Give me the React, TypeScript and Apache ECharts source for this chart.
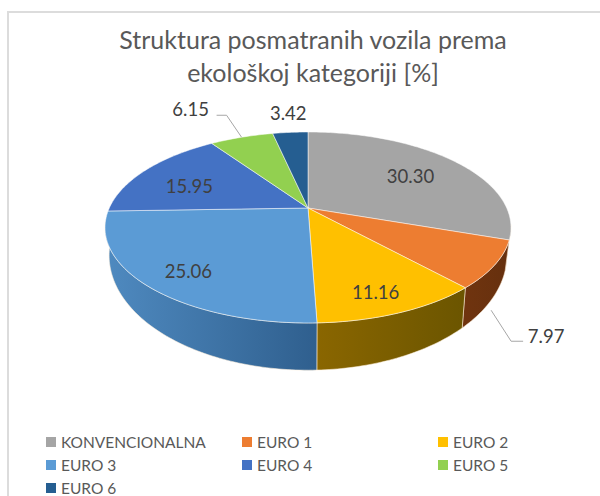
import React, { useEffect, useRef } from "react";
import * as echarts from "echarts";

const TITLE = "Struktura posmatranih vozila prema\nekološkoj kategoriji [%]";
const categories = ["KONVENCIONALNA", "EURO 1", "EURO 2", "EURO 3", "EURO 4", "EURO 5", "EURO 6"];
const shares = [30.3, 7.97, 11.16, 25.06, 15.95, 6.15, 3.42];
const colors = ["#a5a5a5", "#ed7d31", "#ffc000", "#5b9bd5", "#4472c4", "#92d050", "#255e91"];
const wallLeft = ["#7a7a7a", "#70340f", "#8a6600", "#4f8ac0", "#33558f", "#6a9a3a", "#1b4569"];
const wallRight = ["#6e6e6e", "#66300e", "#6b5500", "#2f5f8e", "#2f4f85", "#5f8a34", "#1b4569"];
const legendColumns = [
  ["KONVENCIONALNA", "EURO 3", "EURO 6"],
  ["EURO 1", "EURO 4"],
  ["EURO 2", "EURO 5"],
];

// projection of the tilted disc
const CX = 308, TOP_Y = 208, R = 198.7, A = 91.5, K = 0.204;
const BOT_Y = 232, BOT_A = 110, BOT_SCALE = 0.98;
const WALL_FROM = 100, WALL_TO = 262;
const total = shares.reduce((a, b) => a + b, 0);
const startAngle = (i: number) => (shares.slice(0, i).reduce((a, b) => a + b, 0) / total) * 360;
const endAngle = (i: number) => startAngle(i) + (shares[i] / total) * 360;

function topPoint(deg: number, r = 1): [number, number] {
  const t = (deg * Math.PI) / 180;
  const u = Math.sin(t) * r, v = -Math.cos(t) * r;
  const s = 1 / (1 - K * v);
  return [CX + R * u * s, TOP_Y + A * v * s];
}
function botPoint(deg: number): [number, number] {
  const t = (deg * Math.PI) / 180;
  const u = Math.sin(t), v = -Math.cos(t);
  const s = 1 / (1 - K * v);
  return [CX + BOT_SCALE * R * u * s, BOT_Y + BOT_A * v * s];
}
function arc(fn: (d: number) => [number, number], a: number, b: number) {
  const n = Math.max(2, Math.ceil(Math.abs(b - a)));
  const pts: [number, number][] = [];
  for (let j = 0; j <= n; j++) pts.push(fn(a + ((b - a) * j) / n));
  return pts;
}

const FONT = "Lato";
// label placement per slice: inside ones by radial factor plus a nudge, outside ones by offset from the rim
const insideRadius: Record<number, number> = { 0: 0.67, 2: 0.8, 3: 0.78, 4: 0.7 };
const insideNudge: Record<number, [number, number]> = { 0: [2, 1], 2: [-3, 4], 3: [0, 4], 4: [-2, 5] };

function wallItem(_: any, api: any) {
  const i = api.value(0);
  const a = Math.max(startAngle(i), WALL_FROM);
  const b = Math.min(endAngle(i), WALL_TO);
  if (b <= a) return { type: "group", children: [] };
  const pts = [...arc((d) => topPoint(d), a, b), ...arc(botPoint, b, a)];
  return {
    type: "polygon",
    shape: { points: pts },
    style: {
      fill: new echarts.graphic.LinearGradient(0, 0, 1, 0, [
        { offset: 0, color: wallLeft[i] },
        { offset: 1, color: wallRight[i] },
      ]),
      stroke: "rgba(255,240,220,0.55)",
      lineWidth: 1,
    },
  };
}

function topItem(i: number) {
  return () => ({
    type: "polygon",
    shape: {
      points: [[CX, TOP_Y], ...arc((d) => topPoint(d), startAngle(i), endAngle(i))],
    },
    style: { fill: colors[i], stroke: "rgba(255,255,255,0.5)", lineWidth: 1 },
  });
}

function labelItem(_: any, api: any) {
  const i = api.value(0);
  const mid = (startAngle(i) + endAngle(i)) / 2;
  const text = shares[i].toFixed(2);
  const font = { fill: "#404040", fontSize: 18.5, fontFamily: FONT, align: "center", verticalAlign: "middle" };
  if (insideRadius[i] !== undefined) {
    const [x, y] = topPoint(mid, insideRadius[i]);
    return { type: "text", x: x + insideNudge[i][0], y: y + insideNudge[i][1], style: { ...font, text } };
  }
  const leader = "#a6a6a6";
  if (i === 1) {
    const [bx, by] = botPoint(mid);
    const p0: [number, number] = [bx, by + 10];
    const p1: [number, number] = [p0[0] + 20, p0[1] + 31];
    const p2: [number, number] = [p1[0] + 12, p1[1]];
    return {
      type: "group",
      children: [
        { type: "polyline", shape: { points: [p0, p1, p2] }, style: { stroke: leader, lineWidth: 1, fill: "none" } },
        { type: "text", x: p2[0] + 23, y: p2[1] - 5, style: { ...font, text } },
      ],
    };
  }
  const [tx, ty] = topPoint(mid);
  if (i === 5) {
    const p1: [number, number] = [tx - 15, ty - 22];
    const p2: [number, number] = [p1[0] - 10, p1[1]];
    return {
      type: "group",
      children: [
        { type: "polyline", shape: { points: [[tx, ty], p1, p2] }, style: { stroke: leader, lineWidth: 1, fill: "none" } },
        { type: "text", x: p2[0] - 26, y: p2[1] - 6, style: { ...font, text } },
      ],
    };
  }
  return { type: "text", x: tx - 2, y: ty - 19, style: { ...font, text } };
}

const legendX = [46, 242, 438];

export default function App() {
  const ref = useRef<HTMLDivElement>(null);
  useEffect(() => {
    const chart = echarts.init(ref.current!, undefined, { renderer: "svg" });
    const idx = categories.map((_, i) => [i]);
    chart.setOption({
      animation: false,
      backgroundColor: "#ffffff",
      graphic: [
        {
          type: "rect",
          silent: true,
          z: -1,
          shape: { x: 8, y: 12, width: 620, height: 520 },
          style: { fill: "#ffffff", stroke: "#dcdcdc", lineWidth: 2 },
        },
      ],
      title: {
        text: TITLE,
        left: 308,
        top: 17,
        textAlign: "center",
        textStyle: { color: "#595959", fontSize: 25, fontWeight: "normal", fontFamily: FONT, lineHeight: 33 },
      },
      legend: legendColumns.map((data, c) => ({
        data,
        orient: "vertical",
        left: legendX[c],
        top: 434,
        height: 120,
        padding: 0,
        itemWidth: 10,
        itemHeight: 10,
        itemGap: 7,
        icon: "rect",
        selectedMode: false,
        textStyle: { color: "#595959", fontSize: 15.5, fontFamily: FONT, lineHeight: 14 },
      })),
      series: [
        { type: "custom", coordinateSystem: "none", z: 1, silent: true, renderItem: wallItem, data: idx },
        ...categories.map((name, i) => ({
          type: "custom",
          name,
          coordinateSystem: "none",
          z: 2,
          silent: true,
          itemStyle: { color: colors[i] },
          renderItem: topItem(i),
          data: [[shares[i]]],
        })),
        { type: "custom", coordinateSystem: "none", z: 3, silent: true, renderItem: labelItem, data: idx },
      ],
    });
    return () => chart.dispose();
  }, []);
  return <div ref={ref} style={{ position: "fixed", left: 0, top: 0, width: 600, height: 496 }} />;
}
